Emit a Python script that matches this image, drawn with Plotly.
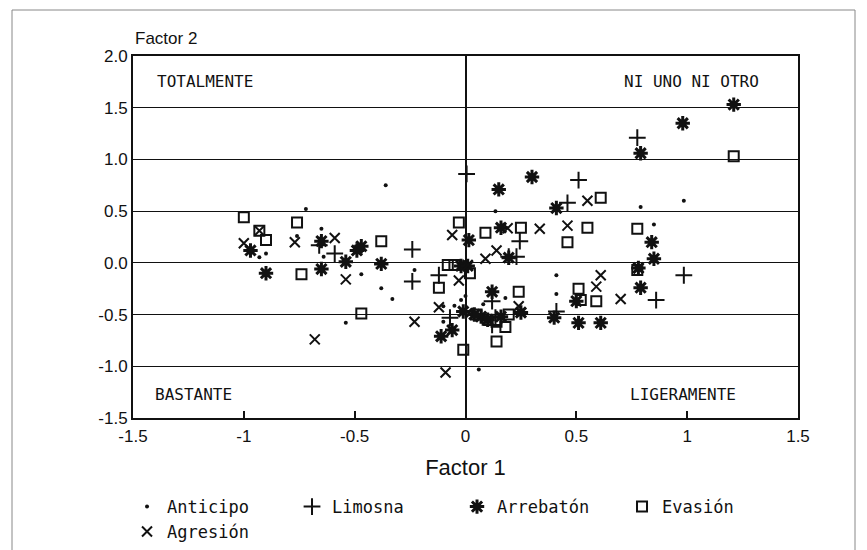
import plotly.graph_objects as go

# ---------------- data ----------------
anticipo_x = [-0.36, -0.72, -0.90, -0.93, -0.76, -0.65, -0.64, -0.47, -0.38, -0.33, -0.54, -0.23,
              -0.10, -0.10, -0.05, -0.02, 0.00, 0.06, 0.135, 0.79, 0.985, 0.85, 0.41, 0.41, 0.18, 0.03, 0.08]
anticipo_y = [0.75, 0.52, 0.09, 0.055, 0.26, 0.33, 0.06, -0.11, -0.245, -0.35, -0.58, -0.07,
              -0.57, -0.42, -0.415, -0.36, -0.32, -1.03, 0.50, 0.54, 0.60, 0.37, -0.12, -0.30, -0.34, -0.45, -0.40]

limosna_x = [0.005, -0.24, -0.24, -0.59, -0.66, -0.12, -0.07, 0.51, 0.46, 0.245, 0.23, 0.775,
             0.12, 0.135, 0.12, 0.41, 0.985, 0.86, 0.195]
limosna_y = [0.86, 0.13, -0.18, 0.09, 0.17, -0.12, -0.53, 0.80, 0.58, 0.21, 0.06, 1.21,
             -0.37, -0.53, -0.60, -0.47, -0.12, -0.36, 0.06]

arrebaton_x = [-0.97, -0.90, -0.65, -0.65, -0.54, -0.49, -0.47, -0.38, 0.015, -0.11, -0.06, 0.15,
               0.30, 0.16, 0.195, 0.41, 0.79, 0.98, 1.21, 0.84, 0.85, 0.12, 0.25, -0.01, 0.07, 0.10,
               0.40, 0.51, 0.61, 0.79, 0.78, 0.50, -0.02, 0.01, 0.04, 0.16]
arrebaton_y = [0.12, -0.10, 0.21, -0.06, 0.01, 0.12, 0.16, -0.01, 0.22, -0.71, -0.65, 0.71,
               0.83, 0.34, 0.05, 0.53, 1.06, 1.35, 1.53, 0.20, 0.04, -0.28, -0.48, -0.47, -0.52, -0.55,
               -0.53, -0.58, -0.58, -0.24, -0.05, -0.37, -0.03, -0.03, -0.50, -0.52]

evasion_x = [-1.00, -0.93, -0.90, -0.76, -0.74, -0.38, -0.47, -0.03, -0.12, -0.01, 0.02, -0.08,
             -0.05, 0.09, 0.25, 0.46, 0.55, 0.61, 0.775, 1.21, 0.24, 0.195, 0.18, 0.14, 0.51, 0.52,
             0.59, 0.775, 0.10, 0.05, 0.14]
evasion_y = [0.44, 0.31, 0.22, 0.39, -0.11, 0.21, -0.49, 0.39, -0.24, -0.84, -0.10, -0.02,
             -0.02, 0.29, 0.34, 0.20, 0.34, 0.63, 0.33, 1.03, -0.28, -0.50, -0.62, -0.76, -0.25, -0.36,
             -0.37, -0.07, -0.55, -0.50, -0.57]

agresion_x = [-1.00, -0.93, -0.77, -0.59, -0.54, -0.68, -0.23, -0.12, -0.06, -0.03, -0.09, 0.01,
              0.19, 0.335, 0.46, 0.55, 0.14, 0.09, 0.24, 0.61, 0.59, 0.70]
agresion_y = [0.19, 0.31, 0.20, 0.24, -0.16, -0.74, -0.57, -0.43, 0.27, -0.17, -1.06, -0.02,
              0.335, 0.33, 0.36, 0.60, 0.12, 0.04, -0.42, -0.12, -0.23, -0.35]

x_ticks = [-1.5, -1, -0.5, 0, 0.5, 1, 1.5]
x_tick_labels = ["-1.5", "-1", "-0.5", "0", "0.5", "1", "1.5"]
y_ticks = [-1.5, -1.0, -0.5, 0.0, 0.5, 1.0, 1.5, 2.0]
y_tick_labels = ["-1.5", "-1.0", "-0.5", "0.0", "0.5", "1.0", "1.5", "2.0"]

quadrant_labels = ["TOTALMENTE", "NI UNO NI OTRO", "BASTANTE", "LIGERAMENTE"]

# ---------------- figure ----------------
INK = "#111111"
MONO = "DejaVu Sans Mono"
SANS = "Liberation Sans, Arial, sans-serif"

W, H = 859, 542
ML, MT, PW, PH = 125, 48, 665, 362

fig = go.Figure()

fig.add_trace(go.Scatter(x=anticipo_x, y=anticipo_y, mode="markers", name="Anticipo",
                         marker=dict(symbol="circle", size=4, color=INK), legend="legend"))
fig.add_trace(go.Scatter(x=limosna_x, y=limosna_y, mode="markers", name="Limosna",
                         marker=dict(symbol="cross-thin-open", size=12, color=INK,
                                     line=dict(width=2, color=INK)), legend="legend"))
fig.add_trace(go.Scatter(x=arrebaton_x, y=arrebaton_y, mode="markers", name="Arrebatón",
                         marker=dict(symbol="asterisk-open", size=12, color=INK,
                                     line=dict(width=3, color=INK)), legend="legend"))
fig.add_trace(go.Scatter(x=evasion_x, y=evasion_y, mode="markers", name="Evasión",
                         marker=dict(symbol="square-open", size=10, color=INK,
                                     line=dict(width=2, color=INK)), legend="legend"))
fig.add_trace(go.Scatter(x=agresion_x, y=agresion_y, mode="markers", name="Agresión",
                         marker=dict(symbol="x-thin-open", size=10, color=INK,
                                     line=dict(width=2, color=INK)), legend="legend2"))

fig.update_layout(
    width=W, height=H,
    margin=dict(l=ML, r=W - ML - PW, t=MT, b=H - MT - PH, autoexpand=False),
    paper_bgcolor="white", plot_bgcolor="white",
    font=dict(family=SANS, color=INK),
    showlegend=True,
    legend=dict(orientation="h", x=-0.009, xanchor="left", y=-0.246, yanchor="middle",
                font=dict(family=MONO, size=17, color=INK), entrywidth=120,
                entrywidthmode="pixels", itemwidth=30, bgcolor="rgba(0,0,0,0)"),
    legend2=dict(orientation="h", x=-0.009, xanchor="left", y=-0.315, yanchor="middle",
                 font=dict(family=MONO, size=17, color=INK), itemwidth=30,
                 bgcolor="rgba(0,0,0,0)"),
    xaxis=dict(range=[-1.5, 1.5], tickvals=x_ticks, ticktext=x_tick_labels,
               showgrid=False, zeroline=True, zerolinecolor=INK, zerolinewidth=1.5,
               showline=True, linecolor=INK, linewidth=2, mirror=True,
               ticks="inside", ticklen=7, tickwidth=1.5, tickcolor=INK,
               ticklabelstandoff=2,
               tickfont=dict(family=SANS, size=17, color=INK),
               title=dict(text="Factor 1", font=dict(family=SANS, size=22, color=INK), standoff=14)),
    yaxis=dict(range=[-1.5, 2.0], tickvals=y_ticks, ticktext=y_tick_labels,
               showgrid=True, gridcolor=INK, gridwidth=1.3, zeroline=False,
               showline=True, linecolor=INK, linewidth=2, mirror=True,
               ticks="", tickfont=dict(family=SANS, size=17, color=INK)),
)

# "Factor 2" axis title placed above the y axis
fig.add_annotation(text="Factor 2", xref="paper", yref="paper", x=0.0, y=1.0,
                   xanchor="left", yanchor="bottom", yshift=6, showarrow=False,
                   font=dict(family=SANS, size=17, color=INK))

# quadrant labels
pos = [(0.033, 0.93, "left"), (0.945, 0.93, "right"), (0.03, 0.066, "left"), (0.91, 0.066, "right")]
for txt, (px, py, anc) in zip(quadrant_labels, pos):
    fig.add_annotation(text=txt, xref="paper", yref="paper", x=px, y=py, xanchor=anc,
                       yanchor="middle", showarrow=False,
                       font=dict(family=MONO, size=16, color=INK))

# page frame of the scanned figure
fig.add_shape(type="rect", xref="paper", yref="paper",
              x0=(4 - ML) / PW, x1=(847 - ML) / PW,
              y0=-0.6, y1=(MT + PH - 2) / PH,
              line=dict(color="#888888", width=1), fillcolor="rgba(0,0,0,0)", layer="below")

fig.write_html("out.html")
